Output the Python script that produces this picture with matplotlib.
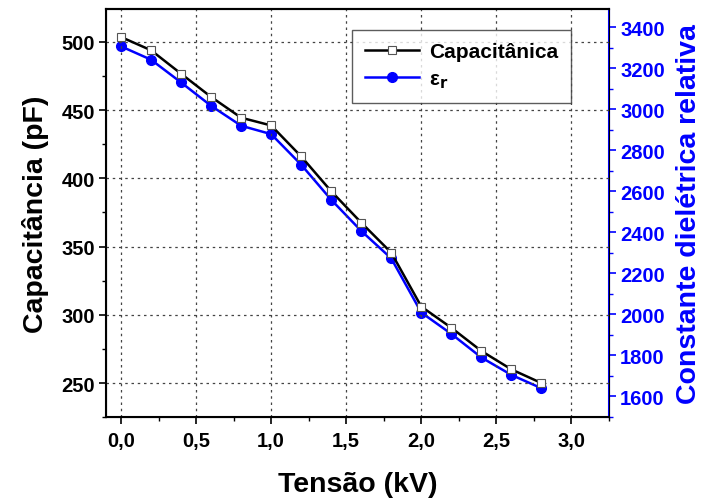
import numpy as np
import matplotlib.pyplot as plt
from matplotlib.ticker import MultipleLocator, FuncFormatter

plt.rcParams['font.family'] = ['Liberation Sans', 'DejaVu Sans']
plt.rcParams['font.weight'] = 'bold'

# dados
tensao = [0.0, 0.2, 0.4, 0.6, 0.8, 1.0, 1.2, 1.4, 1.6, 1.8, 2.0, 2.2, 2.4, 2.6, 2.8]
capacitancia = [503.5, 493.8, 476.6, 459.6, 444.4, 438.7, 416.0, 390.5, 367.5, 345.5,
                306.0, 290.5, 273.5, 260.0, 250.0]
eps_r = [3306, 3241, 3130, 3016, 2919, 2878, 2729, 2558, 2406, 2272,
         2008, 1904, 1789, 1704, 1639]

virgula = FuncFormatter(lambda v, p: f'{v:.1f}'.replace('.', ','))

fig = plt.figure(figsize=(7.02, 5.02), dpi=100)
ax = fig.add_axes([0.151, 0.167, 0.7165, 0.813])
ax2 = ax.twinx()

l1, = ax.plot(tensao, capacitancia, color='black', lw=1.8, marker='s', ms=6,
              mfc='white', mec='#555555', mew=0.8, zorder=3)
l2, = ax2.plot(tensao, eps_r, color='blue', lw=1.8, marker='o', ms=7,
               mfc='blue', mec='blue', zorder=3)

ax.set_xlim(-0.1, 3.25)
ax.set_ylim(225, 524)
ax2.set_ylim(1498, 3488)

ax.xaxis.set_major_locator(MultipleLocator(0.5))
ax.xaxis.set_minor_locator(MultipleLocator(0.25))
ax.xaxis.set_major_formatter(virgula)
ax.yaxis.set_major_locator(MultipleLocator(50))
ax.yaxis.set_minor_locator(MultipleLocator(25))
ax2.yaxis.set_major_locator(MultipleLocator(200))
ax2.yaxis.set_minor_locator(MultipleLocator(100))

ax.grid(True, which='major', color='#444444', ls=(0, (2, 3)), lw=0.9)

ax.tick_params(which='major', direction='out', length=5, width=1.2, labelsize=14.5, pad=3)
ax.tick_params(axis='x', pad=5)
ax.tick_params(which='minor', direction='out', length=3, width=1.0)
ax2.tick_params(which='major', direction='out', length=5, width=1.2, labelsize=14.5,
                colors='blue', pad=3)
ax2.tick_params(which='minor', direction='out', length=3, width=1.0, colors='blue')

for s in ['left', 'bottom', 'top']:
    ax.spines[s].set_linewidth(1.5)
ax2.spines['right'].set_color('blue')
ax2.spines['right'].set_linewidth(1.5)
ax2.spines['top'].set_linewidth(1.5)

ax.set_xlabel('Tensão (kV)', fontsize=20.5, fontweight='bold', labelpad=15)
ax.set_ylabel('Capacitância (pF)', fontsize=20.5, fontweight='bold', labelpad=9)
ax2.set_ylabel('Constante dielétrica relativa', fontsize=20.5, fontweight='bold',
               color='blue', labelpad=8)

leg = ax.legend([l1, l2], ['Capacitânica', 'ε$_\\mathbf{r}$'],
                loc='upper right', bbox_to_anchor=(0.945, 0.975), fontsize=15,
                frameon=True, fancybox=False, edgecolor='#333333',
                handlelength=2.6, handletextpad=0.5, borderpad=0.6, labelspacing=0.4)
leg.get_frame().set_linewidth(1.0)
ax.set_zorder(ax2.get_zorder() + 1)
ax.patch.set_visible(False)

fig.savefig('out.png', dpi=100)
